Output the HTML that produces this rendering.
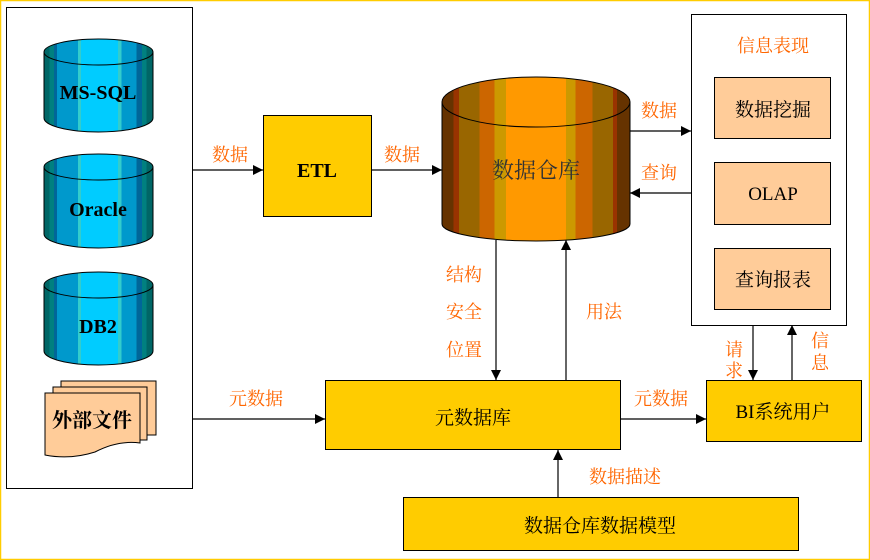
<!DOCTYPE html>
<html><head><meta charset="utf-8"><style>
html,body{margin:0;padding:0;background:#fff;}
svg{display:block;}
text{font-family:"Liberation Serif","Noto Serif CJK SC","Noto Sans CJK SC",serif;}
.o{fill:#FF6600;font-size:18px;}
.k{fill:#000;font-size:19px;}
</style></head><body>
<svg width="870" height="560" viewBox="0 0 870 560" xmlns="http://www.w3.org/2000/svg">
<defs>
<linearGradient id="bl" x1="44" x2="153" y1="0" y2="0" gradientUnits="userSpaceOnUse">
<stop offset="0" stop-color="#006666"/><stop offset="0.05" stop-color="#006666"/>
<stop offset="0.05" stop-color="#008080"/><stop offset="0.09" stop-color="#008080"/>
<stop offset="0.09" stop-color="#006699"/><stop offset="0.12" stop-color="#006699"/>
<stop offset="0.12" stop-color="#0099CC"/><stop offset="0.31" stop-color="#0099CC"/>
<stop offset="0.31" stop-color="#33CCCC"/><stop offset="0.34" stop-color="#33CCCC"/>
<stop offset="0.34" stop-color="#00CCFF"/><stop offset="0.68" stop-color="#00CCFF"/>
<stop offset="0.68" stop-color="#33CCCC"/><stop offset="0.71" stop-color="#33CCCC"/>
<stop offset="0.71" stop-color="#0099CC"/><stop offset="0.85" stop-color="#0099CC"/>
<stop offset="0.85" stop-color="#006699"/><stop offset="0.9" stop-color="#006699"/>
<stop offset="0.9" stop-color="#008080"/><stop offset="0.94" stop-color="#008080"/>
<stop offset="0.94" stop-color="#006666"/><stop offset="1" stop-color="#006666"/>
</linearGradient>
<linearGradient id="or" x1="442" x2="630" y1="0" y2="0" gradientUnits="userSpaceOnUse">
<stop offset="0" stop-color="#663300"/><stop offset="0.06" stop-color="#663300"/>
<stop offset="0.06" stop-color="#993300"/><stop offset="0.09" stop-color="#993300"/>
<stop offset="0.09" stop-color="#996600"/><stop offset="0.2" stop-color="#996600"/>
<stop offset="0.2" stop-color="#CC6600"/><stop offset="0.28" stop-color="#CC6600"/>
<stop offset="0.28" stop-color="#CC9900"/><stop offset="0.34" stop-color="#CC9900"/>
<stop offset="0.34" stop-color="#FF9900"/><stop offset="0.66" stop-color="#FF9900"/>
<stop offset="0.66" stop-color="#CC9900"/><stop offset="0.71" stop-color="#CC9900"/>
<stop offset="0.71" stop-color="#CC6600"/><stop offset="0.8" stop-color="#CC6600"/>
<stop offset="0.8" stop-color="#996600"/><stop offset="0.91" stop-color="#996600"/>
<stop offset="0.91" stop-color="#993300"/><stop offset="0.93" stop-color="#993300"/>
<stop offset="0.93" stop-color="#663300"/><stop offset="1" stop-color="#663300"/>
</linearGradient>
<marker id="a" viewBox="0 0 10 10" refX="10" refY="5" markerWidth="10" markerHeight="10" markerUnits="userSpaceOnUse" orient="auto"><path d="M0,0 L10,5 L0,10 z" fill="#000"/></marker>
</defs>
<rect x="0.5" y="0.5" width="869" height="559" fill="#fff" stroke="#FFCC00" stroke-width="1.5"/>

<!-- left panel -->
<rect x="6.5" y="7.5" width="186" height="481" fill="#fff" stroke="#000"/>
<g stroke="#000" stroke-width="1">
<path d="M44,52 L44,118 A54.5,14 0 0 0 153,118 L153,52 Z" fill="url(#bl)"/>
<ellipse cx="98.5" cy="52" rx="54.5" ry="13" fill="url(#bl)"/>
<path d="M44,167 L44,234 A54.5,14 0 0 0 153,234 L153,167 Z" fill="url(#bl)"/>
<ellipse cx="98.5" cy="167" rx="54.5" ry="13" fill="url(#bl)"/>
<path d="M44,285 L44,351 A54.5,14 0 0 0 153,351 L153,285 Z" fill="url(#bl)"/>
<ellipse cx="98.5" cy="285" rx="54.5" ry="13" fill="url(#bl)"/>
</g>
<text x="98" y="99" text-anchor="middle" font-size="20" font-weight="bold">MS-SQL</text>
<text x="98" y="216" text-anchor="middle" font-size="20" font-weight="bold">Oracle</text>
<text x="98" y="333" text-anchor="middle" font-size="20" font-weight="bold">DB2</text>
<g stroke="#000" fill="#FFCC99">
<rect x="61" y="381" width="95" height="54"/>
<rect x="53" y="387" width="94" height="53"/>
<path d="M45,393 L140,393 L140,443 Q118,440 95,452 Q70,460 45,455 Z"/>
</g>
<text x="92" y="427" text-anchor="middle" font-size="20" font-weight="bold" font-family="Noto Serif CJK SC,serif">外部文件</text>

<!-- ETL -->
<rect x="263.5" y="115.5" width="108" height="101" fill="#FFCC00" stroke="#000"/>
<text x="317" y="177" text-anchor="middle" font-size="20" font-weight="bold">ETL</text>

<!-- DW -->
<path d="M442,102 L442,224 A94,17 0 0 0 630,224 L630,102 Z" fill="url(#or)" stroke="#000"/>
<ellipse cx="536" cy="102" rx="94" ry="25" fill="url(#or)" stroke="#000"/>
<text x="536" y="178" text-anchor="middle" font-size="22" fill="#333">数据仓库</text>

<!-- right panel -->
<rect x="691.5" y="14.5" width="155" height="311" fill="#fff" stroke="#000"/>
<text x="773" y="52" text-anchor="middle" class="o">信息表现</text>
<g fill="#FFCC99" stroke="#000">
<rect x="714.5" y="77.5" width="116" height="61"/>
<rect x="714.5" y="162.5" width="116" height="62"/>
<rect x="714.5" y="248.5" width="116" height="61"/>
</g>
<text x="773" y="116" text-anchor="middle" class="k">数据挖掘</text>
<text x="773" y="200" text-anchor="middle" class="k">OLAP</text>
<text x="773" y="286" text-anchor="middle" class="k">查询报表</text>

<!-- metadata db -->
<rect x="325.5" y="380.5" width="295" height="69" fill="#FFCC00" stroke="#000"/>
<text x="473" y="424" text-anchor="middle" class="k">元数据库</text>
<rect x="706.5" y="380.5" width="155" height="61" fill="#FFCC00" stroke="#000"/>
<text x="783" y="418" text-anchor="middle" class="k">BI系统用户</text>
<rect x="403.5" y="497.5" width="395" height="53" fill="#FFCC00" stroke="#000"/>
<text x="600" y="532" text-anchor="middle" class="k" font-size="20">数据仓库数据模型</text>

<!-- arrows -->
<g stroke="#000" stroke-width="1.2" fill="none" marker-end="url(#a)">
<line x1="192" y1="170" x2="263" y2="170"/>
<line x1="371" y1="170" x2="442" y2="170"/>
<line x1="630" y1="131" x2="691" y2="131"/>
<line x1="691" y1="193" x2="630" y2="193"/>
<line x1="496" y1="240" x2="496" y2="380"/>
<line x1="566" y1="380" x2="566" y2="240"/>
<line x1="192" y1="419" x2="325" y2="419"/>
<line x1="620" y1="419" x2="706" y2="419"/>
<line x1="558" y1="497" x2="558" y2="450"/>
<line x1="753" y1="325" x2="753" y2="380"/>
<line x1="792" y1="380" x2="792" y2="325"/>
</g>

<!-- labels -->
<text x="230" y="161" text-anchor="middle" class="o">数据</text>
<text x="402" y="161" text-anchor="middle" class="o">数据</text>
<text x="659" y="117" text-anchor="middle" class="o">数据</text>
<text x="659" y="179" text-anchor="middle" class="o">查询</text>
<text x="464" y="281" text-anchor="middle" class="o">结构</text>
<text x="464" y="318" text-anchor="middle" class="o">安全</text>
<text x="464" y="356" text-anchor="middle" class="o">位置</text>
<text x="604" y="318" text-anchor="middle" class="o">用法</text>
<text x="256" y="405" text-anchor="middle" class="o">元数据</text>
<text x="661" y="405" text-anchor="middle" class="o">元数据</text>
<text x="625" y="483" text-anchor="middle" class="o">数据描述</text>
<text x="734" y="356" text-anchor="middle" class="o">请</text>
<text x="734" y="377" text-anchor="middle" class="o">求</text>
<text x="820" y="347" text-anchor="middle" class="o">信</text>
<text x="820" y="369" text-anchor="middle" class="o">息</text>
</svg>
</body></html>
